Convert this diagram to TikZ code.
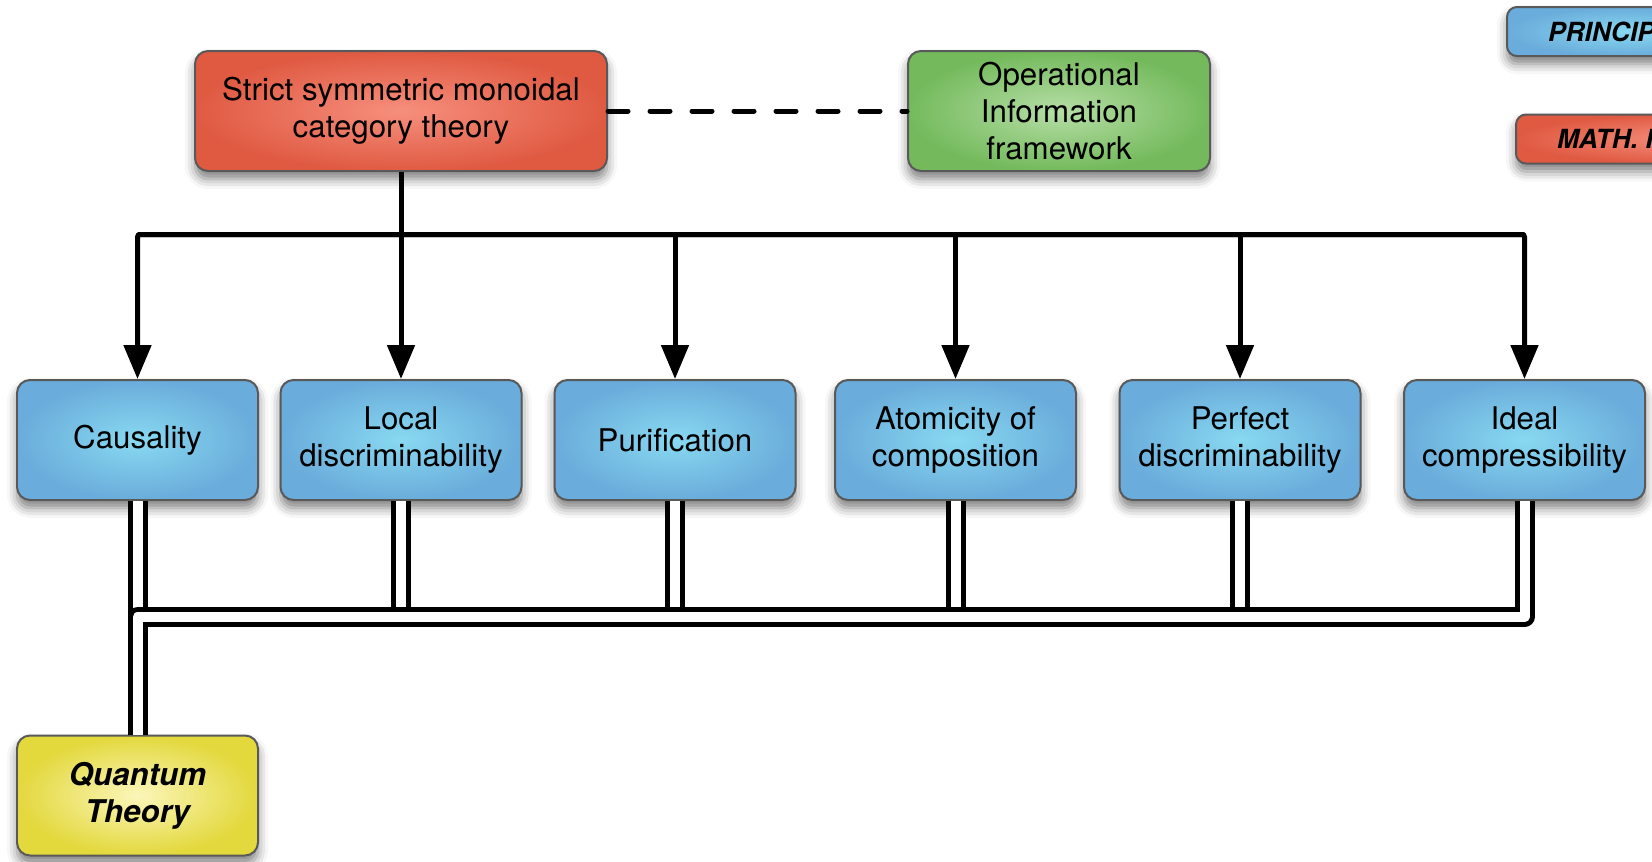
\documentclass[tikz,border=0pt]{standalone}
\usepackage{fontspec}
\setmainfont{TeX Gyre Heros}
\usetikzlibrary{arrows.meta,shadows.blur}

\definecolor{edgegray}{HTML}{595959}
\definecolor{blueIn}{HTML}{88D9F1}
\definecolor{blueOut}{HTML}{6AACDB}
\definecolor{redIn}{HTML}{F68F7D}
\definecolor{redOut}{HTML}{E05A42}
\definecolor{greenIn}{HTML}{B6DEA6}
\definecolor{greenOut}{HTML}{74BA5C}
\definecolor{yellowIn}{HTML}{FBF6BA}
\definecolor{yellowOut}{HTML}{E3D83C}

\tikzset{
    box/.style={draw=edgegray, line width=0.04cm, rounded corners=0.26cm,
        minimum width=4.82cm, minimum height=2.4cm, align=center,
        font=\fontsize{17.8}{21}\selectfont,
        blur shadow={shadow xshift=0cm, shadow yshift=-0.16cm,
            shadow blur radius=0.2cm, shadow opacity=50}},
    principle/.style={box, inner color=blueIn, outer color=blueOut},
    mathframe/.style={box, inner color=redIn, outer color=redOut},
    opframe/.style={box, inner color=greenIn, outer color=greenOut},
    theory/.style={box, inner color=yellowIn, outer color=yellowOut,
        font=\fontsize{17.8}{21}\selectfont\bfseries\itshape},
    keybox/.style={box, minimum width=0pt, minimum height=0.98cm,
        rounded corners=0.2cm, anchor=west, inner xsep=0.82cm,
        font=\fontsize{15}{18}\selectfont\bfseries\itshape},
    conn/.style={line width=0.1cm},
    arr/.style={conn, rounded corners=0.05cm,
        -{Triangle[width=0.54cm,length=0.68cm]}},
    dbl/.style={line width=0.1cm, double=white, double distance=0.2cm,
        line join=round},
}

\begin{document}
\begin{tikzpicture}
    \useasboundingbox (0,0) rectangle (33.04,-17.22);
    \clip (0,0) rectangle (33.04,-17.22);
    % legend, cut at the right border
    \node (keyprinc) [keybox, inner color=blueIn, outer color=blueOut] at (30.12,-0.63) {PRINCIPLES};
    \node (keymath) [keybox, inner color=redIn, outer color=redOut] at (30.3,-2.78) {MATH. FRAMEWORK};

    \node (smc) [mathframe, minimum width=8.24cm] at (8.02,-2.22) {Strict symmetric monoidal\\category theory};
    \node (oif) [opframe, minimum width=6.04cm] at (21.18,-2.22) {Operational\\Information\\framework};

    \node (caus) [principle] at (2.75,-8.8) {Causality};
    \node (loc) [principle] at (8.02,-8.8) {Local\\discriminability};
    \node (pur) [principle] at (13.5,-8.8) {Purification};
    \node (atom) [principle] at (19.11,-8.8) {Atomicity of\\composition};
    \node (perf) [principle] at (24.8,-8.8) {Perfect\\discriminability};
    \node (ideal) [principle] at (30.49,-8.8) {Ideal\\compressibility};

    \node (qt) [theory] at (2.75,-15.91) {Quantum\\Theory};

    \coordinate (tbus) at (0,-4.69);
    \coordinate (bbus) at (0,-12.34);

    \draw[conn, dash pattern=on 0.4cm off 0.44cm, line cap=round] (smc.east) -- (oif.west);
    \draw[conn] (smc.south) -- (smc.south |- tbus);
    \draw[arr] (ideal.north |- tbus) -| (caus.north);
    \draw[arr] (caus.north |- tbus) -| (ideal.north);
    \foreach \n in {loc,pur,atom,perf}
        \draw[arr] (\n.north |- tbus) -- (\n.north);

    \foreach \n in {caus,loc,pur,atom,perf}
        \draw[dbl] (\n.south) -- (\n.south |- bbus);
    \draw[dbl] (ideal.south) |- (qt.north |- bbus) -- (qt.north);
\end{tikzpicture}
\end{document}
